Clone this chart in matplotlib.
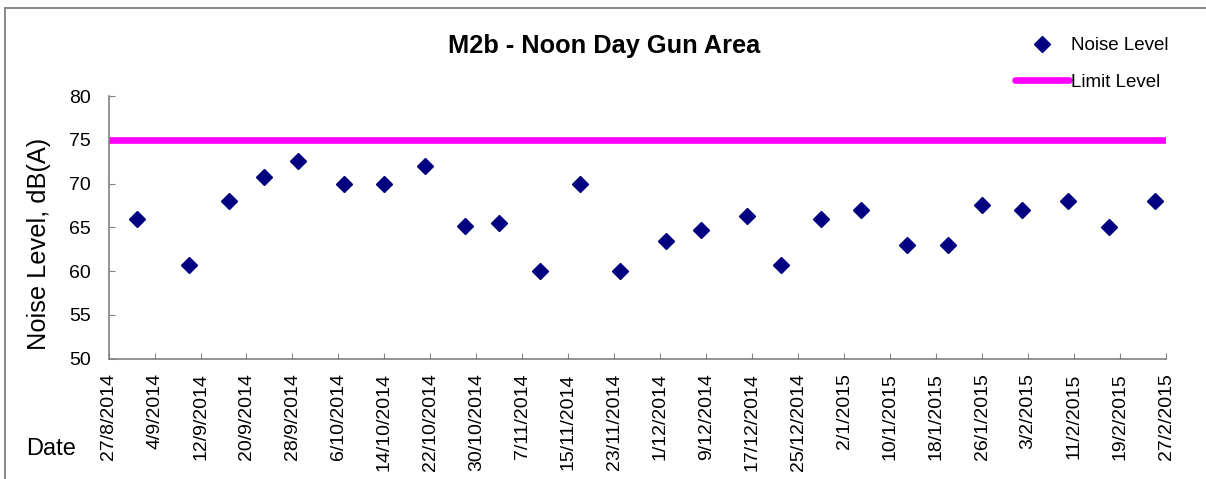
import matplotlib
matplotlib.use("Agg")
import matplotlib.pyplot as plt
from matplotlib.lines import Line2D
import pandas as pd

plt.rcParams['font.family'] = ['Liberation Sans', 'DejaVu Sans']

title = "M2b - Noon Day Gun Area"
dates = ["2014-09-01", "2014-09-10", "2014-09-17", "2014-09-23", "2014-09-29",
         "2014-10-07", "2014-10-14", "2014-10-21", "2014-10-28", "2014-11-03",
         "2014-11-10", "2014-11-17", "2014-11-24", "2014-12-02", "2014-12-08",
         "2014-12-16", "2014-12-22", "2014-12-29", "2015-01-05", "2015-01-13",
         "2015-01-20", "2015-01-26", "2015-02-02", "2015-02-10", "2015-02-17",
         "2015-02-25"]
noise = [66.0, 60.7, 68.0, 70.8, 72.6, 70.0, 70.0, 72.0, 65.2, 65.5,
         60.0, 70.0, 60.0, 63.4, 64.7, 66.3, 60.7, 66.0, 67.0, 63.0,
         63.0, 67.6, 67.0, 68.0, 65.0, 68.0]
limit_dates = ["2014-08-27", "2015-02-27"]
limit_values = [75, 75]
tick_start, tick_end = "2014-08-27", "2015-02-27"

x = pd.to_datetime(dates)
xl = pd.to_datetime(limit_dates)
ticks = pd.date_range(tick_start, tick_end, freq="8D")
tick_labels = [f"{d.day}/{d.month}/{d.year}" for d in ticks]

fig = plt.figure(figsize=(12.06, 4.79), dpi=100)
ax = fig.add_axes([0.09, 0.2511, 0.8769, 0.5484])

ax.plot(xl, limit_values, color='#FF00FF', linewidth=4.8,
        solid_capstyle='round', label='Limit Level', zorder=2)
ax.plot(x, noise, linestyle='none', marker='D', markersize=8,
        color='#000080', markeredgecolor='#000080', label='Noise Level', zorder=3)

ax.set_xlim(pd.Timestamp(tick_start), pd.Timestamp(tick_end))
ax.set_ylim(50, 80)
ax.set_yticks(range(50, 81, 5))
ax.set_xticks(ticks)
ax.set_xticklabels(tick_labels, rotation=90, fontsize=14)
ax.tick_params(axis='y', labelsize=14, direction='in', length=4.5, pad=13,
               color='#808080')
ax.tick_params(axis='x', direction='in', length=4, pad=10.5, color='#808080')

for s in ['top', 'right']:
    ax.spines[s].set_visible(False)
for s in ['left', 'bottom']:
    ax.spines[s].set_color('#808080')
    ax.spines[s].set_linewidth(1.2)

ax.set_ylabel("Noise Level, dB(A)", fontsize=18.3)
ax.yaxis.set_label_coords(-0.054, 0.437)

fig.text(0.501, 1 - 46 / 479, title, ha='center', va='center', fontsize=18.3,
         fontweight='bold')
fig.text(26 / 1206, 1 - 449 / 479, "Date", ha='left', va='center', fontsize=17)

handles, labels = ax.get_legend_handles_labels()
order = [1, 0]
leg = fig.legend([handles[i] for i in order], [labels[i] for i in order],
                 loc='upper left', bbox_to_anchor=(1015 / 1206, 1 - 37 / 479),
                 frameon=False, fontsize=13.5, handlelength=2.9,
                 handletextpad=0.1, labelspacing=1.05, borderaxespad=0,
                 borderpad=0)

# outer chart frame (top and left edges)
fig.add_artist(Line2D([5 / 1206, 1.0], [1 - 8 / 479, 1 - 8 / 479],
                      transform=fig.transFigure, color='#808080', linewidth=1.3))
fig.add_artist(Line2D([5 / 1206, 5 / 1206], [0.0, 1 - 8 / 479],
                      transform=fig.transFigure, color='#808080', linewidth=1.3))

fig.savefig("out.png", dpi=100)
